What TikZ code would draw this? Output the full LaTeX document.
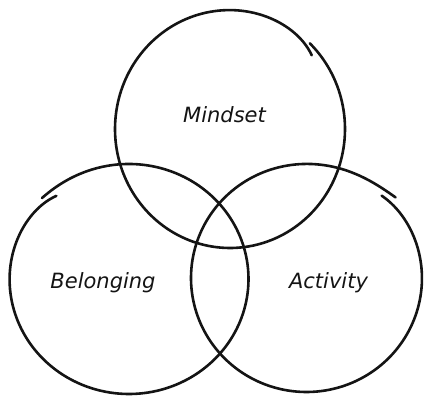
\documentclass[tikz,border=0pt]{standalone}
\usepackage{fontspec}
\setmainfont{DejaVu Sans}
\usepackage{tikz}
\usetikzlibrary{positioning}

\tikzset{
  sketch/.style={line width=2.6pt, line cap=round, color=black!92},
  label/.style={font=\itshape\fontsize{21}{24}\selectfont, anchor=base, inner sep=0pt, color=black!92}
}

\begin{document}
\begin{tikzpicture}[x=1pt, y=-1pt]
  \useasboundingbox (0,0) rectangle (424,396);
  % hand drawn rings: centre, radii, start angle, sweep, end offsets
  \foreach \cx/\cy/\rx/\ry/\ta/\sw/\da/\db in {
      230/129/115/119/-46/365/0/-6.7,
      129/279/119.5/115/-136/366/1.5/-6.5,
      306.5/278/115.5/114/-48/365.5/-3.2/5.3}
    \draw[sketch, smooth] plot[domain=\ta:\ta+\sw, samples=180]
      ({\cx+(\rx+\da*(1-(\x-\ta)/\sw)^30+\db*((\x-\ta)/\sw)^30)*cos(\x)},
       {\cy+(\ry+\da*(1-(\x-\ta)/\sw)^30+\db*((\x-\ta)/\sw)^30)*sin(\x)});
  \node[label] (mindset) at (224.5,123) {Mindset};
  \node[label] (belonging) at (103,289) {Belonging};
  \node[label] (activity) at (328.5,289) {Activity};
\end{tikzpicture}
\end{document}
